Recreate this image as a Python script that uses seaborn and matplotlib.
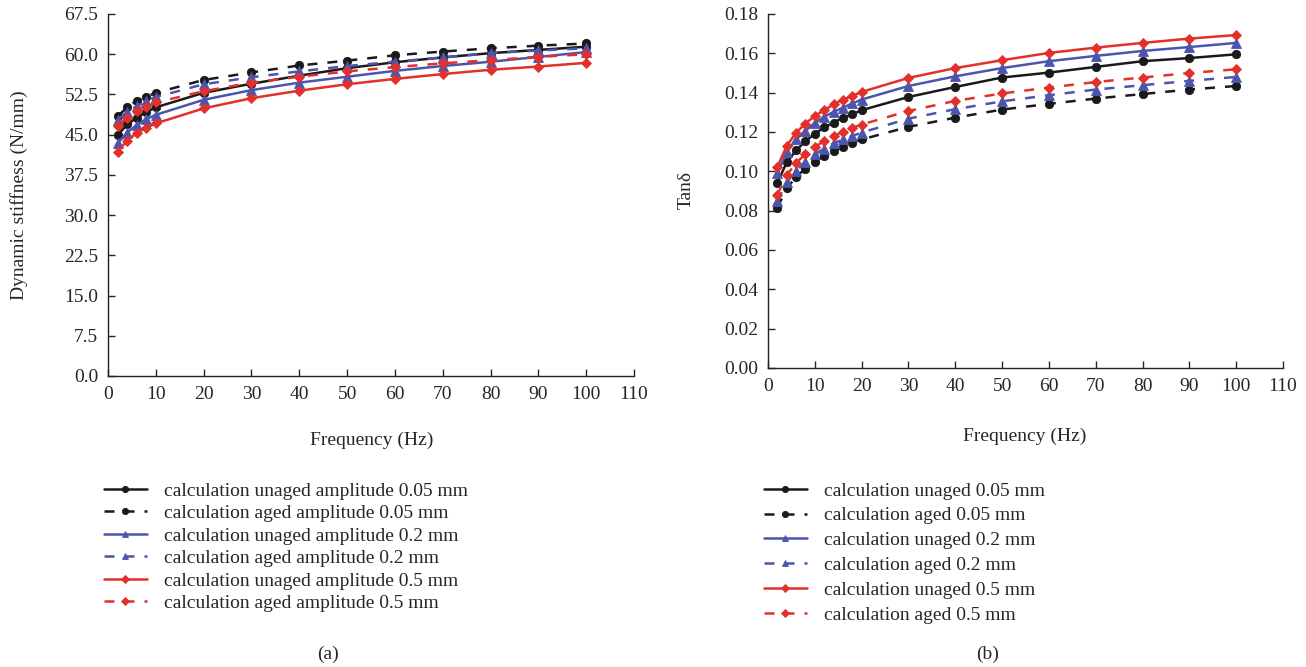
import numpy as np
import pandas as pd
import matplotlib
matplotlib.use("Agg")
import matplotlib.pyplot as plt
import seaborn as sns

# ---------------- data ----------------
freq_a = [2, 4, 6, 8, 10, 20, 30, 40, 50, 60, 70, 80, 90, 100]
stiff_unaged_005 = [44.9, 46.9, 48.2, 49.2, 50.1, 52.8, 54.5, 56.0, 57.4, 58.5, 59.4, 60.2, 60.8, 61.4]
stiff_aged_005 = [48.4, 50.1, 51.3, 52.1, 52.8, 55.2, 56.6, 57.9, 58.8, 59.8, 60.5, 61.1, 61.6, 62.0]
stiff_unaged_02 = [43.4, 45.4, 46.8, 47.9, 48.7, 51.5, 53.3, 54.7, 55.8, 56.9, 57.8, 58.6, 59.5, 60.4]
stiff_aged_02 = [47.7, 49.3, 50.3, 51.3, 52.0, 54.4, 55.7, 56.8, 57.8, 58.6, 59.4, 60.2, 60.7, 61.1]
stiff_unaged_05 = [41.8, 43.9, 45.3, 46.3, 47.1, 49.9, 51.8, 53.2, 54.4, 55.4, 56.3, 57.1, 57.7, 58.4]
stiff_aged_05 = [46.6, 48.2, 49.4, 50.2, 51.0, 53.1, 54.7, 55.8, 56.8, 57.6, 58.3, 58.9, 59.5, 60.0]

freq_b = [2, 4, 6, 8, 10, 12, 14, 16, 18, 20, 30, 40, 50, 60, 70, 80, 90, 100]
tan_unaged_005 = [0.0943, 0.1045, 0.1107, 0.1153, 0.1192, 0.1223, 0.1248, 0.1272, 0.1290, 0.1311,
                  0.1378, 0.1429, 0.1477, 0.1502, 0.1531, 0.1560, 0.1576, 0.1595]
tan_aged_005 = [0.0816, 0.0913, 0.0972, 0.1014, 0.1048, 0.1078, 0.1104, 0.1124, 0.1145, 0.1162,
                0.1226, 0.1273, 0.1314, 0.1343, 0.1370, 0.1393, 0.1416, 0.1434]
tan_unaged_02 = [0.0989, 0.1099, 0.1162, 0.1206, 0.1246, 0.1277, 0.1302, 0.1324, 0.1345, 0.1365,
                 0.1434, 0.1483, 0.1525, 0.1560, 0.1587, 0.1612, 0.1632, 0.1653]
tan_aged_02 = [0.0848, 0.0946, 0.1002, 0.1048, 0.1086, 0.1116, 0.1142, 0.1162, 0.1180, 0.1197,
               0.1268, 0.1316, 0.1356, 0.1387, 0.1416, 0.1438, 0.1460, 0.1480]
tan_unaged_05 = [0.1023, 0.1129, 0.1197, 0.1243, 0.1282, 0.1311, 0.1340, 0.1365, 0.1383, 0.1404,
                 0.1475, 0.1525, 0.1565, 0.1602, 0.1629, 0.1653, 0.1675, 0.1693]
tan_aged_05 = [0.0882, 0.0980, 0.1043, 0.1087, 0.1124, 0.1155, 0.1180, 0.1200, 0.1221, 0.1238,
               0.1307, 0.1358, 0.1396, 0.1426, 0.1454, 0.1477, 0.1500, 0.1519]

labels_a = ["calculation unaged amplitude 0.05 mm", "calculation aged amplitude 0.05 mm",
            "calculation unaged amplitude 0.2 mm", "calculation aged amplitude 0.2 mm",
            "calculation unaged amplitude 0.5 mm", "calculation aged amplitude 0.5 mm"]
labels_b = ["calculation unaged 0.05 mm", "calculation aged 0.05 mm",
            "calculation unaged 0.2 mm", "calculation aged 0.2 mm",
            "calculation unaged 0.5 mm", "calculation aged 0.5 mm"]

# ---------------- style ----------------
sns.set_theme(style="ticks")
plt.rcParams["font.family"] = ["Liberation Serif", "DejaVu Serif"]
plt.rcParams["mathtext.fontset"] = "stix"

BLACK = "#1a1a1a"
BLUE = "#4b55ad"
RED = "#e3302b"
colors = [BLACK, BLACK, BLUE, BLUE, RED, RED]
markers = ["o", "o", "^", "^", "D", "D"]
msizes = [6, 6, 6.5, 6.5, 5.5, 5.5]
solid = "-"
dashed = (0, (4, 4))
lstyles = [solid, dashed, solid, dashed, solid, dashed]

FS = 14

fig = plt.figure(figsize=(13.06, 6.67), dpi=100)
W, H = 1306, 667
ax1 = fig.add_axes([108 / W, 1 - 376 / H, 526 / W, 362 / H])
ax2 = fig.add_axes([768 / W, 1 - 368 / H, 515 / W, 354 / H])

series_a = [stiff_unaged_005, stiff_aged_005, stiff_unaged_02, stiff_aged_02, stiff_unaged_05, stiff_aged_05]
series_b = [tan_unaged_005, tan_aged_005, tan_unaged_02, tan_aged_02, tan_unaged_05, tan_aged_05]

for ax, fx, series, labels in [(ax1, freq_a, series_a, labels_a), (ax2, freq_b, series_b, labels_b)]:
    for ys, lab, c, m, ms, ls in zip(series, labels, colors, markers, msizes, lstyles):
        df = pd.DataFrame({"f": fx, "v": ys})
        sns.lineplot(data=df, x="f", y="v", ax=ax, color=c, marker=m, markersize=ms,
                     markeredgecolor=c, markeredgewidth=0.6, linestyle=ls, linewidth=1.8,
                     label=lab, legend=False)
    ax.set_xlim(0, 110)
    ax.set_xticks(np.arange(0, 111, 10))
    ax.tick_params(direction="in", length=5, width=1, labelsize=FS, pad=7)
    sns.despine(ax=ax)
    for sp in ["left", "bottom"]:
        ax.spines[sp].set_linewidth(1.0)
        ax.spines[sp].set_color("#222222")

ax1.set_ylim(0, 67.5)
ax1.set_yticks(np.arange(0, 67.6, 7.5))
ax1.set_yticklabels([f"{v:.1f}" for v in np.arange(0, 67.6, 7.5)])
ax2.set_ylim(0, 0.18)
ax2.set_yticks(np.arange(0, 0.181, 0.02))
ax2.set_yticklabels([f"{v:.2f}" for v in np.arange(0, 0.181, 0.02)])

ax1.set_xlabel("Frequency (Hz)", fontsize=FS)
ax1.set_ylabel("Dynamic stiffness (N/mm)", fontsize=FS)
ax2.set_xlabel("Frequency (Hz)", fontsize=FS)
ax2.set_ylabel("Tanδ", fontsize=FS)
for ax in (ax1, ax2):
    ax.xaxis.label.set_va("center")
    ax.yaxis.label.set_va("center")
ax1.xaxis.set_label_coords((372 - 108) / 526, (376 - 440) / 362)
ax1.yaxis.set_label_coords((19 - 108) / 526, (376 - 195) / 362)
ax2.xaxis.set_label_coords((1025 - 768) / 515, (368 - 436) / 354)
ax2.yaxis.set_label_coords((686 - 768) / 515, (368 - 190) / 354)

h1, l1 = ax1.get_legend_handles_labels()
fig.legend(h1, l1, loc="upper left", bbox_to_anchor=(104 / W, 1 - 482 / H), frameon=False,
           fontsize=FS, handlelength=2.2, handletextpad=0.9, labelspacing=0.25, borderpad=0,
           borderaxespad=0, markerscale=0.75)
h2, l2 = ax2.get_legend_handles_labels()
fig.legend(h2, l2, loc="upper left", bbox_to_anchor=(764 / W, 1 - 482 / H), frameon=False,
           fontsize=FS, handlelength=2.2, handletextpad=0.9, labelspacing=0.37, borderpad=0,
           borderaxespad=0, markerscale=0.75)

fig.text(328 / W, 1 - 654 / H, "(a)", ha="center", va="center", fontsize=FS)
fig.text(988 / W, 1 - 654 / H, "(b)", ha="center", va="center", fontsize=FS)

fig.savefig("out.png", dpi=100)
